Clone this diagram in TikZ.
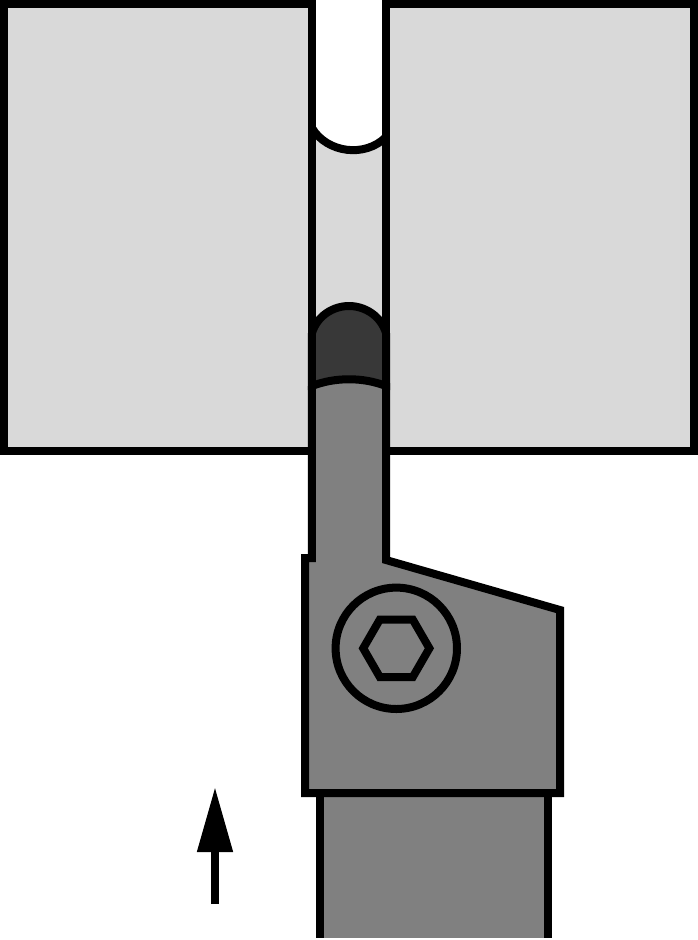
\documentclass[tikz,border=0pt]{standalone}
\usetikzlibrary{arrows.meta}

\definecolor{blockgray}{gray}{0.85}
\definecolor{toolgray}{gray}{0.5}
\definecolor{insertgray}{gray}{0.22}

\tikzset{
  partline/.style={draw=black, line width=0.08cm, miter limit=10},
  feedarrow/.style={draw=black, line width=0.08cm, -{Triangle[length=0.65cm,width=0.34cm]}}
}

\begin{document}
\begin{tikzpicture}
  \useasboundingbox (0cm,0cm) rectangle (6.98cm,-9.4cm);
  % bore below the cut
  \fill[blockgray] (3.12cm,-1.28cm) .. controls (3.27cm,-1.53cm) and (3.65cm,-1.58cm) .. (3.86cm,-1.37cm) -- (3.86cm,-4.51cm) -- (3.12cm,-4.51cm) -- cycle;
  \draw[partline] (3.12cm,-1.28cm) .. controls (3.27cm,-1.53cm) and (3.65cm,-1.58cm) .. (3.86cm,-1.37cm);
  % work blocks
  \filldraw[partline, fill=blockgray] (0.04cm,-0.04cm) rectangle (3.12cm,-4.51cm);
  \filldraw[partline, fill=blockgray] (3.86cm,-0.04cm) rectangle (6.94cm,-4.51cm);
  % insert
  \filldraw[partline, line join=round, fill=insertgray] (3.12cm,-3.9cm) -- (3.12cm,-3.33cm) .. controls (3.17cm,-3.16cm) and (3.33cm,-3.06cm) .. (3.49cm,-3.06cm) .. controls (3.65cm,-3.06cm) and (3.81cm,-3.16cm) .. (3.86cm,-3.33cm) -- (3.86cm,-3.9cm) -- cycle;
  % shank
  \fill[toolgray] (3.203cm,-7.93cm) rectangle (5.477cm,-9.38cm);
  \draw[partline] (3.203cm,-7.93cm) -- (3.203cm,-9.38cm);
  \draw[partline] (5.477cm,-7.93cm) -- (5.477cm,-9.38cm);
  % holder
  \filldraw[partline, fill=toolgray] (3.12cm,-3.86cm) .. controls (3.35cm,-3.77cm) and (3.63cm,-3.77cm) .. (3.86cm,-3.86cm) -- (3.86cm,-5.6cm) -- (5.6cm,-6.1cm) -- (5.6cm,-7.93cm) -- (3.05cm,-7.93cm) -- (3.05cm,-5.58cm) -- (3.12cm,-5.58cm) -- (3.12cm,-3.86cm);
  % screw
  \draw[partline] (3.963cm,-6.483cm) circle (0.607cm);
  \draw[partline] (4.294cm,-6.483cm) -- (4.128cm,-6.77cm) -- (3.798cm,-6.77cm) -- (3.632cm,-6.483cm) -- (3.798cm,-6.196cm) -- (4.128cm,-6.196cm) -- cycle;
  % feed direction
  \coordinate (feedstart) at (2.15cm,-9.04cm);
  \coordinate (feedtip) at (2.15cm,-7.87cm);
  \draw[feedarrow] (feedstart) -- (feedtip);
\end{tikzpicture}
\end{document}
